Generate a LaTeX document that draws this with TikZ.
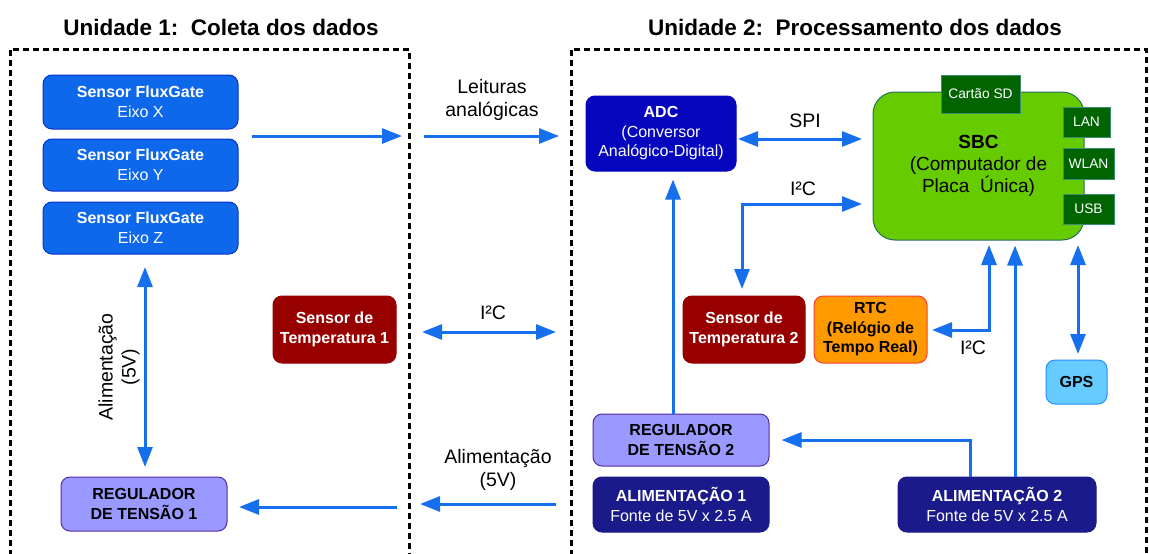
\documentclass[tikz,border=0pt]{standalone}
\usepackage{fontspec}
\setmainfont{Liberation Sans}
\usetikzlibrary{arrows.meta}
\definecolor{flux}{RGB}{14,104,236}
\definecolor{fluxb}{RGB}{10,50,200}
\definecolor{adcc}{RGB}{6,6,190}
\definecolor{tempc}{RGB}{152,0,0}
\definecolor{rtcc}{RGB}{255,153,0}
\definecolor{rtcb}{RGB}{255,60,60}
\definecolor{sbcc}{RGB}{102,204,0}
\definecolor{sbcb}{RGB}{40,110,90}
\definecolor{dgc}{RGB}{0,100,0}
\definecolor{dgb}{RGB}{60,140,110}
\definecolor{gpsc}{RGB}{102,204,255}
\definecolor{gpsb}{RGB}{40,140,255}
\definecolor{regc}{RGB}{153,153,255}
\definecolor{regb}{RGB}{85,40,170}
\definecolor{alimc}{RGB}{26,26,138}
\definecolor{arrc}{RGB}{22,112,238}
\tikzset{
  box/.style={rounded corners=9pt, line width=1pt, align=center, inner sep=0pt,
    font=\fontsize{16}{19.5}\selectfont},
  sq/.style={line width=1pt, align=center, inner sep=0pt, fill=dgc, draw=dgb,
    text=white, font=\fontsize{13.8}{16}\selectfont},
  lbl/.style={align=center, inner sep=0pt, font=\fontsize{19.5}{23}\selectfont},
  ttl/.style={inner sep=0pt, font=\bfseries\fontsize{22.5}{27}\selectfont},
  arr/.style={draw=arrc, line width=3pt, -{Triangle[length=20pt,width=15pt]}},
  darr/.style={draw=arrc, line width=3pt, {Triangle[length=20pt,width=15pt]}-{Triangle[length=20pt,width=15pt]}},
  frame/.style={line width=3pt, dash pattern=on 6pt off 4pt}
}
\begin{document}
\begin{tikzpicture}[x=1pt,y=-1pt]
\useasboundingbox[fill=white] (0,0) rectangle (1149,554);
% titles
\node[ttl] (t1) at (221,27) {Unidade 1:\ \ Coleta dos dados};
\node[ttl] (t2) at (855,27) {Unidade 2:\ \ Processamento dos dados};
% frames
\draw[frame] (10,556) -- (10,49) -- (409,49) -- (409,556);
\draw[frame] (571,556) -- (571,49) -- (1146,49) -- (1146,556);
% unit 1
\node[box, fill=flux, draw=fluxb, text=white, minimum width=195pt, minimum height=54pt] (fx) at (140.5,102) {\textbf{Sensor FluxGate}\\Eixo X};
\node[box, fill=flux, draw=fluxb, text=white, minimum width=195pt, minimum height=52pt] (fy) at (140.5,165) {\textbf{Sensor FluxGate}\\Eixo Y};
\node[box, fill=flux, draw=fluxb, text=white, minimum width=195pt, minimum height=52pt] (fz) at (140.5,228) {\textbf{Sensor FluxGate}\\Eixo Z};
\node[box, fill=tempc, draw=tempc, text=white, font=\bfseries\fontsize{16}{19.5}\selectfont, minimum width=123pt, minimum height=67pt] (t1s) at (334.5,329.5) {Sensor de\\Temperatura 1};
\node[box, fill=regc, draw=regb, font=\bfseries\fontsize{16}{19.5}\selectfont, minimum width=166pt, minimum height=54pt] (reg1) at (144,504) {REGULADOR\\DE TENSÃO 1};
% unit 2
\node[box, fill=adcc, draw=adcc, text=white, minimum width=150pt, minimum height=75pt] (adc) at (661,133.5) {\textbf{ADC}\\(Conversor\\Analógico-Digital)};
\node[box, rounded corners=22pt, fill=sbcc, draw=sbcb, minimum width=211pt, minimum height=148pt, font=\fontsize{19}{22}\selectfont] (sbc) at (978.5,166) {\textbf{SBC}\\(Computador de\\Placa\ \ Única)};
\node[sq, minimum width=79pt, minimum height=38pt] (sd) at (980.5,94) {Cartão SD};
\node[sq, minimum width=47pt, minimum height=30pt] (lan) at (1086.5,122) {LAN};
\node[sq, minimum width=51pt, minimum height=31pt] (wlan) at (1088.5,163.5) {WLAN};
\node[sq, minimum width=51pt, minimum height=30pt] (usb) at (1088.5,209) {USB};
\node[box, fill=tempc, draw=tempc, text=white, font=\bfseries\fontsize{16}{19.5}\selectfont, minimum width=122pt, minimum height=67pt] (t2s) at (744,329.5) {Sensor de\\Temperatura 2};
\node[box, fill=rtcc, draw=rtcb, font=\bfseries\fontsize{16}{19.5}\selectfont, minimum width=113pt, minimum height=67pt] (rtc) at (870.5,329.5) {RTC\\(Relógio de\\Tempo Real)};
\node[box, fill=gpsc, draw=gpsb, font=\bfseries\fontsize{16}{19.5}\selectfont, minimum width=61pt, minimum height=44pt] (gps) at (1076.5,382) {GPS};
\node[box, fill=regc, draw=regb, font=\bfseries\fontsize{16}{19.5}\selectfont, minimum width=176pt, minimum height=52pt] (reg2) at (681,440) {REGULADOR\\DE TENSÃO 2};
\node[box, fill=alimc, draw=alimc, text=white, minimum width=176pt, minimum height=55pt] (al1) at (681,504.5) {\textbf{ALIMENTAÇÃO 1}\\Fonte de 5V x 2.5 A};
\node[box, fill=alimc, draw=alimc, text=white, minimum width=198pt, minimum height=55pt] (al2) at (997,504.5) {\textbf{ALIMENTAÇÃO 2}\\Fonte de 5V x 2.5 A};
% labels
\node[lbl] (lleit) at (492,100) {Leituras\\analógicas};
\node[lbl] (lspi) at (805,121) {SPI};
\node[lbl] (li2a) at (803,189) {I²C};
\node[lbl] (li2b) at (973,348) {I²C};
\node[lbl] (li2c) at (493,313) {I²C};
\node[lbl] (lalim) at (498,470) {Alimentação\\(5V)};
\node[lbl, rotate=90] (lalimv) at (119,367) {Alimentação\\(5V)};
% connectors
\coordinate (a1) at (252,136); \coordinate (a2) at (402,136);
\draw[arr] (a1) -- (a2);
\coordinate (b1) at (424,136); \coordinate (b2) at (559,136);
\draw[arr] (b1) -- (b2);
\coordinate (spiL) at (738,139); \coordinate (spiR) at (862,139);
\draw[darr] (spiL) -- (spiR);
\coordinate (i2R) at (862,204); \coordinate (i2D) at (742,289);
\draw[darr] (i2R) -| (i2D);
\draw[arr] ([xshift=-8pt]reg2.north) -- ([xshift=12pt,yshift=-8pt]adc.south);
\draw[arr] ([xshift=-27pt]al2.north) |- ([xshift=12pt]reg2.east);
\draw[arr] ([xshift=18pt]al2.north) -- ([xshift=36.5pt,yshift=-5pt]sbc.south);
\coordinate (rtcU) at (989,245); \coordinate (rtcL) at (932,330);
\draw[darr] (rtcU) |- (rtcL);
\coordinate (gpsU) at (1078,245); \coordinate (gpsD) at (1078,354);
\draw[darr] (gpsU) -- (gpsD);
\coordinate (c1) at (422,332); \coordinate (c2) at (556,332);
\draw[darr] (c1) -- (c2);
\coordinate (v1) at (145,267); \coordinate (v2) at (145,467);
\draw[darr] (v1) -- (v2);
\coordinate (p1) at (397,507); \coordinate (p2) at (239,507);
\draw[arr] (p1) -- (p2);
\coordinate (q1) at (556,504); \coordinate (q2) at (420,504);
\draw[arr] (q1) -- (q2);
\end{tikzpicture}
\end{document}
